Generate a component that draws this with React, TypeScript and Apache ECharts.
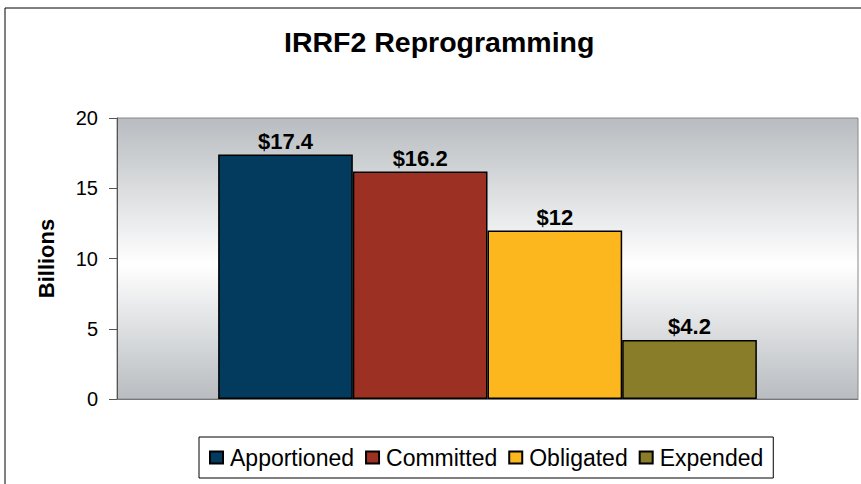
import React, { useEffect, useRef } from "react";
import * as echarts from "echarts";

const categories = ["IRRF2"];
const seriesNames = ["Apportioned", "Committed", "Obligated", "Expended"];
const seriesValues = [17.4, 16.2, 12, 4.2];
const seriesColors = ["#023b5d", "#9c3123", "#fcb71e", "#8a7d2a"];
const yTicks = { min: 0, max: 20, interval: 5 };

export default function App() {
  const ref = useRef<HTMLDivElement>(null);
  useEffect(() => {
    if (!ref.current) return;
    const chart = echarts.init(ref.current, null, { renderer: "svg" });
    const font = "Arial, 'Liberation Sans', sans-serif";
    chart.setOption({
      animation: false,
      backgroundColor: "#ffffff",
      title: {
        text: "IRRF2 Reprogramming",
        left: 279,
        top: 22,
        textStyle: { fontFamily: font, fontSize: 28.5, fontWeight: "bold", color: "#000" },
      },
      graphic: [
        {
          type: "rect",
          shape: { x: 5, y: 8, width: 900, height: 520 },
          style: { fill: "none", stroke: "#000", lineWidth: 1 },
          silent: true,
        },
      ],
      grid: {
        left: 117,
        top: 118,
        right: 3,
        bottom: 85,
        show: true,
        borderColor: "#888888",
        borderWidth: 1,
        backgroundColor: new echarts.graphic.LinearGradient(0, 0, 0, 1, [
          { offset: 0, color: "#b8bcc0" },
          { offset: 0.52, color: "#ffffff" },
          { offset: 1, color: "#b8bcc0" },
        ]),
      },
      legend: {
        data: seriesNames,
        left: 199,
        top: 437,
        padding: [9, 10, 9, 10],
        borderColor: "#000",
        borderWidth: 1,
        backgroundColor: "#fff",
        itemWidth: 13,
        itemHeight: 12,
        itemGap: 11,
        icon: "rect",
        textStyle: { fontFamily: font, fontSize: 23, color: "#000", padding: [0, 0, 0, 2] },
      },
      xAxis: {
        type: "category",
        data: categories,
        axisLine: { show: true, lineStyle: { color: "#777" } },
        axisTick: { show: false },
        axisLabel: { show: false },
      },
      yAxis: {
        type: "value",
        min: yTicks.min,
        max: yTicks.max,
        interval: yTicks.interval,
        name: "Billions",
        nameLocation: "middle",
        nameGap: 60,
        nameRotate: 90,
        nameTextStyle: { fontFamily: font, fontSize: 22, fontWeight: "bold", color: "#000" },
        axisLine: { show: true, lineStyle: { color: "#555" } },
        axisTick: { show: true, length: 8, lineStyle: { color: "#555" } },
        axisLabel: { fontFamily: font, fontSize: 20, color: "#000", margin: 19 },
        splitLine: { show: false },
      },
      series: seriesNames.map((name, i) => ({
        name,
        type: "bar",
        data: [seriesValues[i]],
        barGap: "0%",
        barCategoryGap: "27.3%",
        itemStyle: { color: seriesColors[i], borderColor: "#000", borderWidth: 1.5 },
        label: {
          show: true,
          position: "top",
          distance: 2,
          formatter: (p: any) => "$" + p.value,
          fontFamily: font,
          fontSize: 22,
          fontWeight: "bold",
          color: "#000",
        },
      })),
    });
    return () => chart.dispose();
  }, []);
  return (
    <div
      ref={ref}
      style={{ position: "fixed", left: 0, top: 0, width: 861, height: 484 }}
    />
  );
}
